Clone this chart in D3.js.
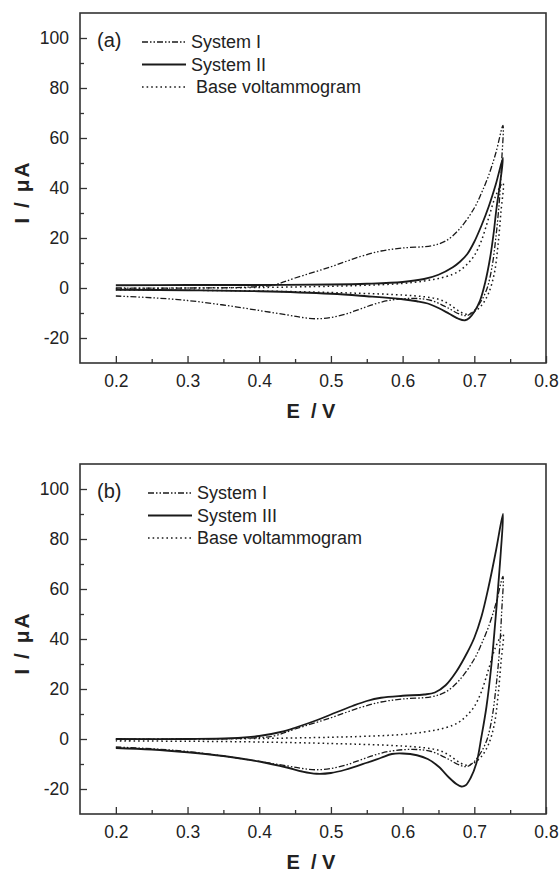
<!DOCTYPE html>
<html>
<head>
<meta charset="utf-8">
<script src="https://cdn.jsdelivr.net/npm/d3@7"></script>
<style>
  body { margin: 0; background: #fff; }
  svg { display: block; }
  text { font-family: "Liberation Sans", Arial, sans-serif; fill: #222; }
</style>
</head>
<body>
<svg id="chart" width="560" height="872"></svg>
<script>
// E in V, I in uA. fwd = anodic sweep, rev = back sweep
var sysI_fwdE = [0.20, 0.30, 0.38, 0.42, 0.45, 0.50, 0.54, 0.57, 0.60, 0.64, 0.66, 0.68, 0.70, 0.71, 0.72, 0.73, 0.74];
var sysI_fwdI = [0.0, 0.0, 0.3, 1.2, 4.0, 8.5, 12.5, 14.8, 16.0, 16.9, 18.8, 23.8, 32.0, 38.0, 45.0, 54.0, 65.0];
var sysI_revE = [0.740, 0.738, 0.735, 0.730, 0.725, 0.718, 0.710, 0.700, 0.690, 0.680, 0.660, 0.640, 0.620, 0.600, 0.580, 0.560, 0.540, 0.520, 0.500, 0.480, 0.460, 0.440, 0.400, 0.350, 0.300, 0.250, 0.200];
var sysI_revI = [65, 50, 35, 20, 9, 0, -5, -9, -11, -10.5, -7.5, -5, -4.2, -4.3, -5.0, -6.5, -8.5, -10.5, -11.8, -12.3, -11.8, -10.8, -9.0, -6.8, -5.0, -3.9, -3.2];

var sysII_fwdE = [0.20, 0.30, 0.40, 0.50, 0.55, 0.60, 0.63, 0.65, 0.67, 0.68, 0.69, 0.70, 0.71, 0.72, 0.73, 0.74];
var sysII_fwdI = [1.1, 1.2, 1.2, 1.4, 1.7, 2.4, 3.6, 5.3, 8.3, 10.5, 13.5, 18.5, 25, 32.5, 41.5, 52];
var sysII_revE = [0.740, 0.736, 0.731, 0.727, 0.722, 0.715, 0.708, 0.700, 0.693, 0.687, 0.678, 0.665, 0.650, 0.635, 0.620, 0.600, 0.550, 0.500, 0.400, 0.300, 0.200];
var sysII_revI = [52, 42, 32, 22, 12, 2, -5, -9.5, -12, -12.9, -12.3, -10.3, -8, -6.2, -5.3, -4.5, -3.3, -2.3, -1.3, -0.9, -0.7];

var sysIII_fwdE = [0.20, 0.30, 0.36, 0.40, 0.43, 0.45, 0.48, 0.50, 0.53, 0.55, 0.57, 0.60, 0.63, 0.645, 0.66, 0.675, 0.69, 0.70, 0.71, 0.72, 0.73, 0.74];
var sysIII_fwdI = [0.0, 0.0, 0.3, 1.2, 2.8, 4.5, 7.5, 9.8, 13.2, 15.2, 16.5, 17.3, 17.8, 18.6, 21.5, 27.0, 34.5, 40.5, 49, 61, 75, 90];
var sysIII_revE = [0.740, 0.737, 0.733, 0.729, 0.724, 0.717, 0.710, 0.703, 0.695, 0.688, 0.682, 0.675, 0.665, 0.650, 0.635, 0.620, 0.600, 0.585, 0.570, 0.550, 0.520, 0.500, 0.480, 0.460, 0.440, 0.400, 0.350, 0.300, 0.250, 0.200];
var sysIII_revI = [90, 75, 60, 46, 30, 13, 1, -9.6, -15.5, -18.5, -19, -18, -15.5, -11, -8, -6.5, -5.8, -6.0, -7.5, -9.5, -12.3, -13.6, -13.9, -13.0, -11.5, -9.0, -6.8, -5.3, -4.2, -3.6];

var base_fwdE = [0.20, 0.30, 0.40, 0.50, 0.55, 0.60, 0.63, 0.65, 0.67, 0.68, 0.69, 0.70, 0.71, 0.72, 0.73, 0.74];
var base_fwdI = [-0.2, 0.0, 0.2, 0.7, 1.1, 1.8, 2.8, 3.8, 5.5, 7.0, 9.5, 13, 19, 28, 37, 42];
var base_revE = [0.740, 0.737, 0.733, 0.728, 0.720, 0.710, 0.700, 0.690, 0.680, 0.665, 0.650, 0.630, 0.600, 0.550, 0.500, 0.400, 0.300, 0.200];
var base_revI = [42, 30, 17, 6, -2, -7, -9.5, -10.5, -9.5, -6.5, -4.5, -3.5, -2.8, -2.2, -1.8, -1.2, -0.9, -0.8];

var xTicks = [0.2, 0.3, 0.4, 0.5, 0.6, 0.7, 0.8];
var xMinor = [0.25, 0.35, 0.45, 0.55, 0.65, 0.75];
var yTicks = [-20, 0, 20, 40, 60, 80, 100];
var yMinor = [-10, 10, 30, 50, 70, 90];

var legendA = ["System I", "System II", " Base voltammogram"];
var legendB = ["System I", "System III", "Base voltammogram"];

var dashSysI = "6,2,1.5,2,1.5,2",
    dashBase = "1.6,3";

function loop(fE, fI, rE, rI) {
    var pts = [];
    fE.forEach(function(e, i) { pts.push([e, fI[i]]); });
    rE.forEach(function(e, i) { if (i > 0) pts.push([e, rI[i]]); });
    return pts;
}

var svg = d3.select("#chart"),
    width = 466,
    height = 350;

var x = d3.scaleLinear().domain([0.15, 0.8]).range([0, width]);
var y = d3.scaleLinear().domain([-30, 110]).range([height, 0]);

var line = d3.line()
    .x(function(d) { return x(d[0]); })
    .y(function(d) { return y(d[1]); })
    .curve(d3.curveCatmullRom.alpha(0.5));

function drawPanel(top, tag, labels, second, legX) {
    var g = svg.append("g").attr("transform", "translate(80," + top + ")");

    // curves
    var curves = [
        {pts: loop(base_fwdE, base_fwdI, base_revE, base_revI), dash: dashBase, w: 1.5},
        {pts: loop(sysI_fwdE, sysI_fwdI, sysI_revE, sysI_revI), dash: dashSysI, w: 1.3},
        {pts: second, dash: null, w: 1.8}
    ];
    curves.forEach(function(c) {
        g.append("path")
            .datum(c.pts)
            .attr("fill", "none")
            .attr("stroke", "#1a1a1a")
            .attr("stroke-width", c.w)
            .attr("stroke-dasharray", c.dash)
            .attr("stroke-linejoin", "round")
            .attr("d", line);
    });

    // axes, ticks point inward
    g.append("g").attr("transform", "translate(0," + height + ")")
        .call(d3.axisBottom(x).tickValues(xTicks).tickSize(-7).tickPadding(12)
            .tickFormat(function(d) { return d.toFixed(1); }));
    g.append("g").attr("transform", "translate(0," + height + ")")
        .call(d3.axisBottom(x).tickValues(xMinor).tickSize(-4).tickFormat(""));
    g.append("g")
        .call(d3.axisLeft(y).tickValues(yTicks).tickSize(-7).tickPadding(11)
            .tickFormat(function(d) { return String(d); }));
    g.append("g")
        .call(d3.axisLeft(y).tickValues(yMinor).tickSize(-4).tickFormat(""));

    g.selectAll(".domain").remove();
    g.selectAll(".tick line").attr("stroke", "#333").attr("stroke-width", 1.3);
    g.selectAll(".tick text").attr("font-size", 17.5).attr("font-family", null).attr("fill", "#222");

    g.append("rect")
        .attr("width", width)
        .attr("height", height)
        .attr("fill", "none")
        .attr("stroke", "#333")
        .attr("stroke-width", 1.6);

    // axis titles
    g.append("text")
        .attr("x", 231)
        .attr("y", 405)
        .attr("text-anchor", "middle")
        .attr("font-size", 20)
        .attr("font-weight", "bold")
        .style("white-space", "pre")
        .text("E  / V");
    g.append("text")
        .attr("transform", "translate(-51," + (height / 2 + 4) + ") rotate(-90)")
        .attr("text-anchor", "middle")
        .attr("font-size", 21)
        .attr("font-weight", "bold")
        .attr("letter-spacing", 2)
        .text("I / \u03bcA");

    // panel tag
    g.append("text")
        .attr("x", 17)
        .attr("y", 34)
        .attr("font-size", 20)
        .text(tag);

    // legend
    var dashes = [dashSysI, null, dashBase];
    var leg = g.append("g")
        .selectAll("g")
        .data(labels)
        .enter().append("g")
        .attr("transform", function(d, i) { return "translate(0," + (29 + i * 22.5) + ")"; });
    leg.append("line")
        .attr("x1", legX)
        .attr("x2", legX + 44)
        .attr("stroke", "#1a1a1a")
        .attr("stroke-width", function(d, i) { return i == 1 ? 1.8 : 1.4; })
        .attr("stroke-dasharray", function(d, i) { return dashes[i]; });
    leg.append("text")
        .attr("x", legX + 49)
        .attr("dy", "0.35em")
        .attr("font-size", 18)
        .style("white-space", "pre")
        .text(function(d) { return d; });
}

drawPanel(13, "(a)", legendA, loop(sysII_fwdE, sysII_fwdI, sysII_revE, sysII_revI), 62);
drawPanel(464, "(b)", legendB, loop(sysIII_fwdE, sysIII_fwdI, sysIII_revE, sysIII_revI), 68);
</script>
</body>
</html>
